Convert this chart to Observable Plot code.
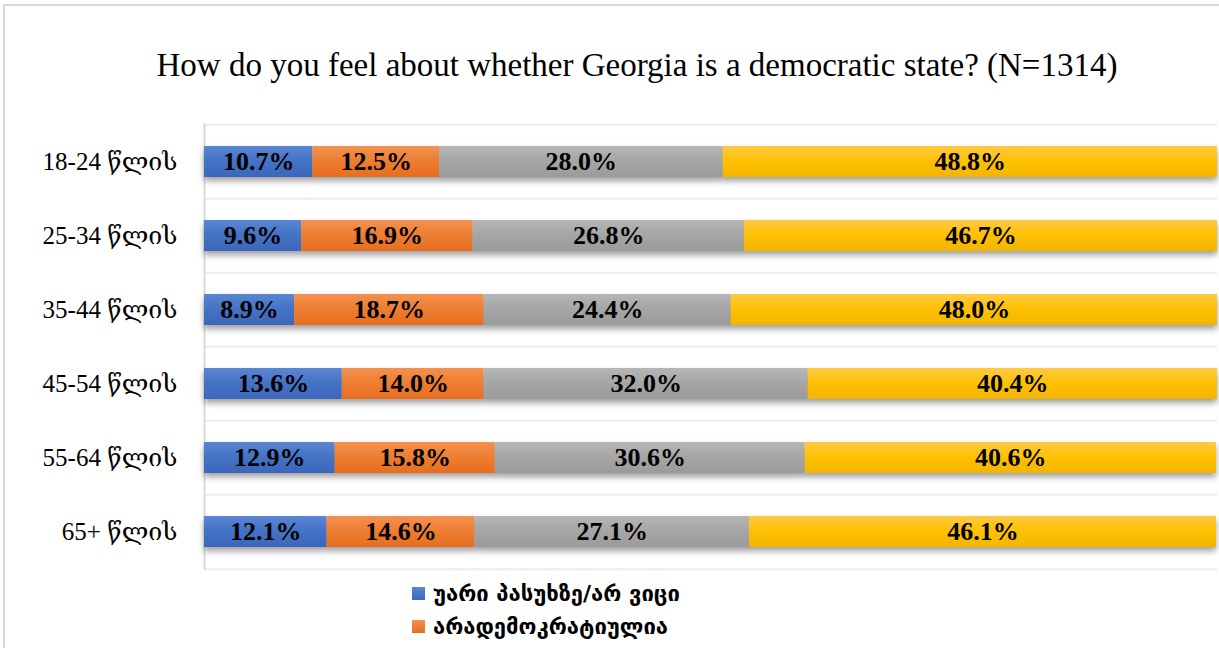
<!DOCTYPE html>
<html><head><meta charset="utf-8">
<script src="https://cdn.jsdelivr.net/npm/d3@7"></script>
<script src="https://cdn.jsdelivr.net/npm/@observablehq/plot@0.6"></script>
<style>
body{margin:0;background:#fff;width:1219px;height:648px;overflow:hidden;position:relative;font-family:"Liberation Serif","DejaVu Serif",serif;}
#frame{position:absolute;left:3px;top:4px;width:1260px;height:700px;border:2px solid #d9d9d9;box-sizing:border-box;}
#title{position:absolute;left:0;width:1274px;top:47px;text-align:center;font-size:33px;color:#000;white-space:nowrap;}
#chart{position:absolute;left:0;top:0;}
#chart g[aria-label="bar"]{filter:drop-shadow(0px 4px 3px rgba(0,0,0,0.38));}
#legend{position:absolute;left:412px;top:577px;font-family:"DejaVu Sans",sans-serif;font-size:22px;font-weight:bold;color:#000;}
#legend .item{display:flex;align-items:center;height:33px;}
#legend .sw{width:13px;height:13px;margin-right:8px;}
</style></head>
<body>
<div id="frame"></div>
<div id="title">How do you feel about whether Georgia is a democratic state? (N=1314)</div>
<div id="chart"></div>
<div id="legend"></div>
<script>
const ages = ["18-24 წლის","25-34 წლის","35-44 წლის","45-54 წლის","55-64 წლის","65+ წლის"];
const series = ["უარი პასუხზე/არ ვიცი","არადემოკრატიულია","ნაწილობრივ დემოკრატიულია","დემოკრატიულია"];
const legendVisible = 2; // the reference image cuts the legend after two entries
const refusedDk = [10.7, 9.6, 8.9, 13.6, 12.9, 12.1];
const notDemocratic = [12.5, 16.9, 18.7, 14.0, 15.8, 14.6];
const partlyDemocratic = [28.0, 26.8, 24.4, 32.0, 30.6, 27.1];
const democratic = [48.8, 46.7, 48.0, 40.4, 40.6, 46.1];
const colors = ["#4472c4","#ed7d31","#a5a5a5","#ffc000"];
const gradStops = [["#5a86d3","#3b67bc"],["#f2914f","#e76d1d"],["#b6b6b6","#9b9b9b"],["#ffca45","#f2b500"]];

const cols = [refusedDk, notDemocratic, partlyDemocratic, democratic];
const data = [];
ages.forEach((a, i) => series.forEach((s, j) => data.push({age: a, series: s, value: cols[j][i]})));

const step = 447 / 6;
const plot = Plot.plot({
  width: 1219, height: 648,
  marginLeft: 204, marginRight: 2, marginTop: 123, marginBottom: 78,
  style: {fontFamily: '"Liberation Serif","DejaVu Serif",serif', fontSize: "25px", color: "#000", background: "transparent"},
  x: {domain: [0, 100], axis: null},
  y: {domain: ages, paddingInner: 0.58, paddingOuter: 0.29, label: null, tickSize: 0, tickPadding: 27},
  color: {domain: series, range: colors},
  marks: [
    Plot.ruleY(ages, {y: d => d, dy: -step / 2, x1: 0, x2: 100, stroke: "#ececec", strokeWidth: 2}),
    Plot.ruleY([ages[ages.length - 1]], {y: d => d, dy: step / 2, x1: 0, x2: 100, stroke: "#ececec", strokeWidth: 2}),
    Plot.ruleX([0], {stroke: "#d9d9d9", strokeWidth: 2}),
    Plot.barX(data, Plot.stackX({x: "value", y: "age", fill: "series"})),
    Plot.text(data, Plot.stackX({x: "value", y: "age", z: "series", text: d => d.value.toFixed(1) + "%", fontSize: 26, fontWeight: "bold", fill: "#000"}))
  ]
});
document.getElementById("chart").appendChild(plot);

// gradients
const svg = d3.select(plot);
const defs = svg.insert("defs", ":first-child");
colors.forEach((c, i) => {
  const g = defs.append("linearGradient").attr("id", "grad" + i).attr("x1", 0).attr("y1", 0).attr("x2", 0).attr("y2", 1);
  g.append("stop").attr("offset", "0%").attr("stop-color", gradStops[i][0]);
  g.append("stop").attr("offset", "50%").attr("stop-color", c);
  g.append("stop").attr("offset", "100%").attr("stop-color", gradStops[i][1]);
});
svg.selectAll('g[aria-label="bar"] rect').each(function() {
  const f = (this.getAttribute("fill") || "").toLowerCase();
  const idx = colors.indexOf(f);
  if (idx >= 0) this.setAttribute("fill", "url(#grad" + idx + ")");
});

// legend (only the entries visible in the reference crop)
const lg = document.getElementById("legend");
series.slice(0, legendVisible).forEach((s, i) => {
  const it = document.createElement("div"); it.className = "item";
  const sw = document.createElement("div"); sw.className = "sw";
  sw.style.background = `linear-gradient(${gradStops[i][0]}, ${gradStops[i][1]})`;
  const t = document.createElement("span"); t.textContent = s;
  it.appendChild(sw); it.appendChild(t); lg.appendChild(it);
});
</script>
</body></html>
